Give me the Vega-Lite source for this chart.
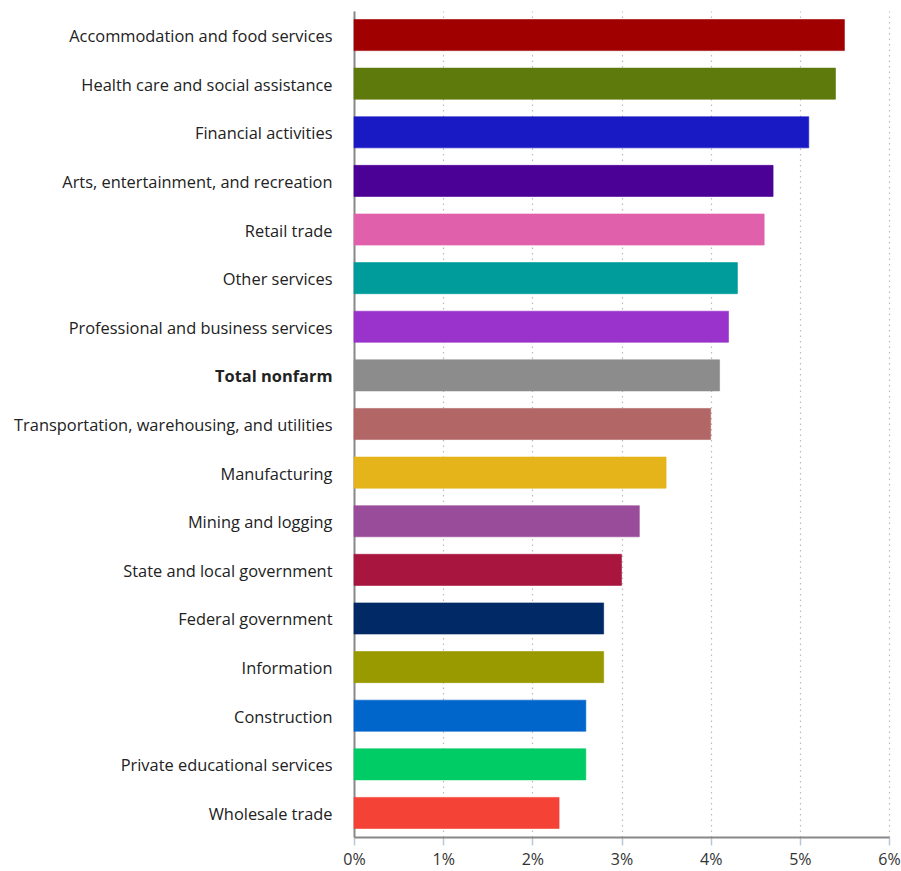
{
  "$schema": "https://vega.github.io/schema/vega-lite/v6.json",
  "width": 535,
  "height": 826,
  "autosize": {"type": "none"},
  "padding": {"left": 354, "top": 11, "right": 12, "bottom": 34},
  "background": "white",
  "data": {"values": [
    {"industry": "Accommodation and food services", "value": 5.5, "color": "#A00000"},
    {"industry": "Health care and social assistance", "value": 5.4, "color": "#5F7A0C"},
    {"industry": "Financial activities", "value": 5.1, "color": "#1A1AC4"},
    {"industry": "Arts, entertainment, and recreation", "value": 4.7, "color": "#4B0096"},
    {"industry": "Retail trade", "value": 4.6, "color": "#E060AC"},
    {"industry": "Other services", "value": 4.3, "color": "#009B9B"},
    {"industry": "Professional and business services", "value": 4.2, "color": "#9933CC"},
    {"industry": "Total nonfarm", "value": 4.1, "color": "#8C8C8C"},
    {"industry": "Transportation, warehousing, and utilities", "value": 4.0, "color": "#B36666"},
    {"industry": "Manufacturing", "value": 3.5, "color": "#E5B31A"},
    {"industry": "Mining and logging", "value": 3.2, "color": "#994C99"},
    {"industry": "State and local government", "value": 3.0, "color": "#A8153E"},
    {"industry": "Federal government", "value": 2.8, "color": "#002966"},
    {"industry": "Information", "value": 2.8, "color": "#999900"},
    {"industry": "Construction", "value": 2.6, "color": "#0066CC"},
    {"industry": "Private educational services", "value": 2.6, "color": "#00CC66"},
    {"industry": "Wholesale trade", "value": 2.3, "color": "#F44336"}
  ]},
  "mark": {"type": "bar", "strokeWidth": 1, "strokeOpacity": 0.6},
  "encoding": {
    "y": {
      "field": "industry", "type": "nominal", "sort": null,
      "scale": {"paddingInner": 0.36, "paddingOuter": 0.175},
      "axis": {
        "title": null, "ticks": false, "labelPadding": 22, "labelOffset": 2,
        "domainColor": "#888888", "domainWidth": 2,
        "labelFont": "Open Sans", "labelFontSize": 16.4, "labelColor": "#222222",
        "labelFontWeight": {"condition": {"test": "datum.value === 'Total nonfarm'", "value": "bold"}, "value": "normal"},
        "labelLimit": 400
      }
    },
    "x": {
      "field": "value", "type": "quantitative",
      "scale": {"domain": [0, 6], "nice": false},
      "axis": {
        "title": null, "values": [0, 1, 2, 3, 4, 5, 6],
        "labelExpr": "datum.value + '%'",
        "labelFlush": false, "labelOverlap": false,
        "labelFont": "Open Sans", "labelFontSize": 16, "labelColor": "#333333",
        "labelPadding": 6,
        "tickColor": "#B8C8DC", "tickSize": 8, "tickWidth": 1.5,
        "domainColor": "#888888", "domainWidth": 2,
        "grid": true, "gridColor": "#BBBBBB", "gridDash": [1.5, 4], "gridWidth": 1.2
      }
    },
    "color": {"field": "color", "type": "nominal", "scale": null, "legend": null},
    "stroke": {"field": "color", "type": "nominal", "scale": null, "legend": null}
  },
  "config": {"view": {"stroke": null}}
}
